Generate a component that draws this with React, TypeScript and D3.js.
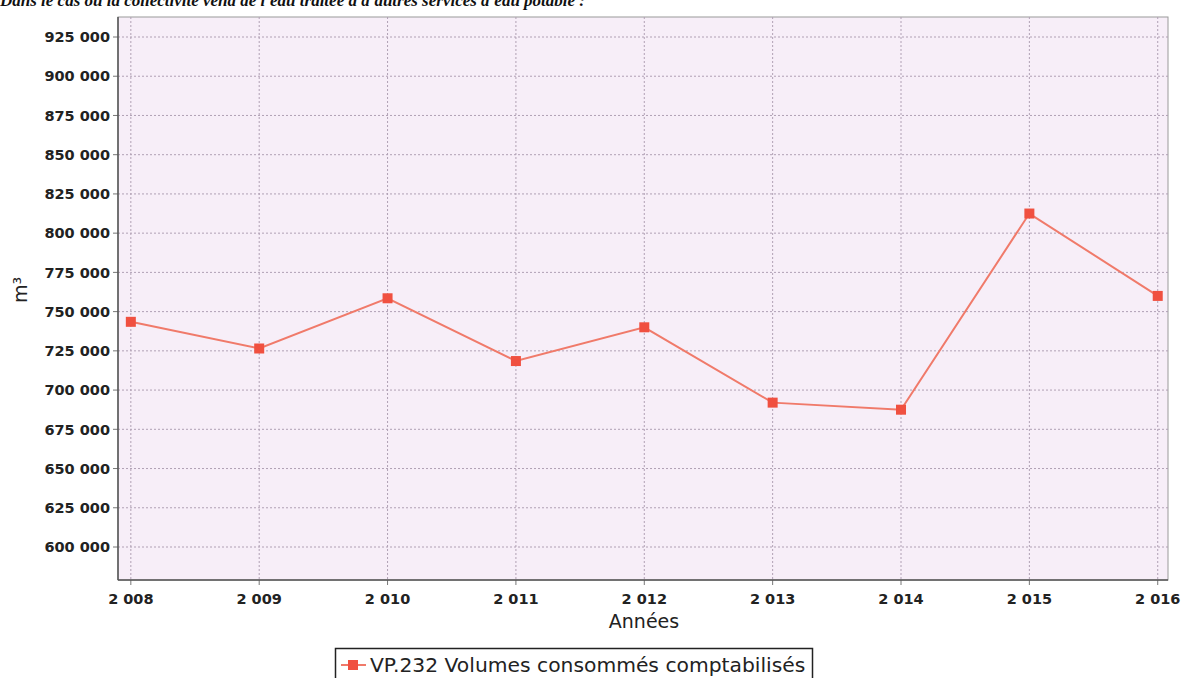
import React from "react";
import * as d3 from "d3";

const years = [2008, 2009, 2010, 2011, 2012, 2013, 2014, 2015, 2016];
const volumes = [743500, 726500, 758500, 718500, 740000, 692000, 687500, 812500, 760000];
const yTicks = [600000, 625000, 650000, 675000, 700000, 725000, 750000, 775000, 800000, 825000, 850000, 875000, 900000, 925000];
const seriesName = "VP.232 Volumes consommés comptabilisés";
const xLabel = "Années";
const yLabel = "m³";
const topText = "Dans le cas où la collectivité vend de l'eau traitée à d'autres services d'eau potable :";

const fmt = (v: number) => {
  const s = String(v);
  return s.replace(/\B(?=(\d{3})+(?!\d))/g, "\u00a0");
};

export default function App() {
  const W = 1185, H = 678;
  const L = 118, R = 1168, T = 17, B = 580;
  const x = d3.scaleLinear().domain([2007.9, 2016.08]).range([L, R]);
  const y = d3.scaleLinear().domain([925000, 600000]).range([37, 547]);
  const line = d3.line<number>().x((_, i) => x(years[i])).y((d) => y(d));
  const font = "DejaVu Sans, Verdana, sans-serif";
  return (
    <svg width={W} height={H} style={{ position: "absolute", left: 0, top: 0 }}>
      <rect width={W} height={H} fill="#fff" />
      <text x={0} y={6} fontFamily="Liberation Serif, serif" fontWeight="bold" fontStyle="italic" fontSize={17} fill="#111">{topText}</text>
      <rect x={L} y={T} width={R - L} height={B - T} fill="#f7eef8" stroke="#9a9a9a" strokeWidth={1} />
      {yTicks.map((t) => (
        <g key={t}>
          <line x1={L} x2={R} y1={y(t)} y2={y(t)} stroke="#b0a0b4" strokeWidth={1} strokeDasharray="2,2" />
          <line x1={L - 5} x2={L} y1={y(t)} y2={y(t)} stroke="#777" />
          <text x={L - 8} y={y(t)} dy="0.36em" textAnchor="end" fontFamily={font} fontWeight="bold" fontSize={14.5} fill="#222">{fmt(t)}</text>
        </g>
      ))}
      {years.map((yr) => (
        <g key={yr}>
          <line x1={x(yr)} x2={x(yr)} y1={T} y2={B} stroke="#b0a0b4" strokeWidth={1} strokeDasharray="2,2" />
          <line x1={x(yr)} x2={x(yr)} y1={B} y2={B + 5} stroke="#777" />
          <text x={x(yr)} y={B + 24} textAnchor="middle" fontFamily={font} fontWeight="bold" fontSize={14.5} fill="#222">{fmt(yr)}</text>
        </g>
      ))}
      <line x1={L} x2={L} y1={T} y2={B} stroke="#555" strokeWidth={1.5} />
      <line x1={L} x2={R} y1={B} y2={B} stroke="#555" strokeWidth={1.5} />
      <path d={line(volumes) || ""} fill="none" stroke="#f07a6a" strokeWidth={2} />
      {volumes.map((v, i) => (
        <rect key={i} x={x(years[i]) - 5} y={y(v) - 5} width={10} height={10} fill="#f05040" />
      ))}
      <text x={644} y={628} textAnchor="middle" fontFamily={font} fontSize={19} fill="#222">{xLabel}</text>
      <text transform={`translate(27,290) rotate(-90)`} textAnchor="middle" fontFamily={font} fontSize={19} fill="#222">{yLabel}</text>
      <rect x={335.5} y={648.5} width={477} height={34} fill="#fff" stroke="#222" strokeWidth={1.5} />
      <line x1={341} x2={366} y1={665} y2={665} stroke="#f07a6a" strokeWidth={2} />
      <rect x={348} y={660} width={10} height={10} fill="#f05040" />
      <text x={370} y={672} fontFamily={font} fontSize={20.3} fill="#222">{seriesName}</text>
    </svg>
  );
}
